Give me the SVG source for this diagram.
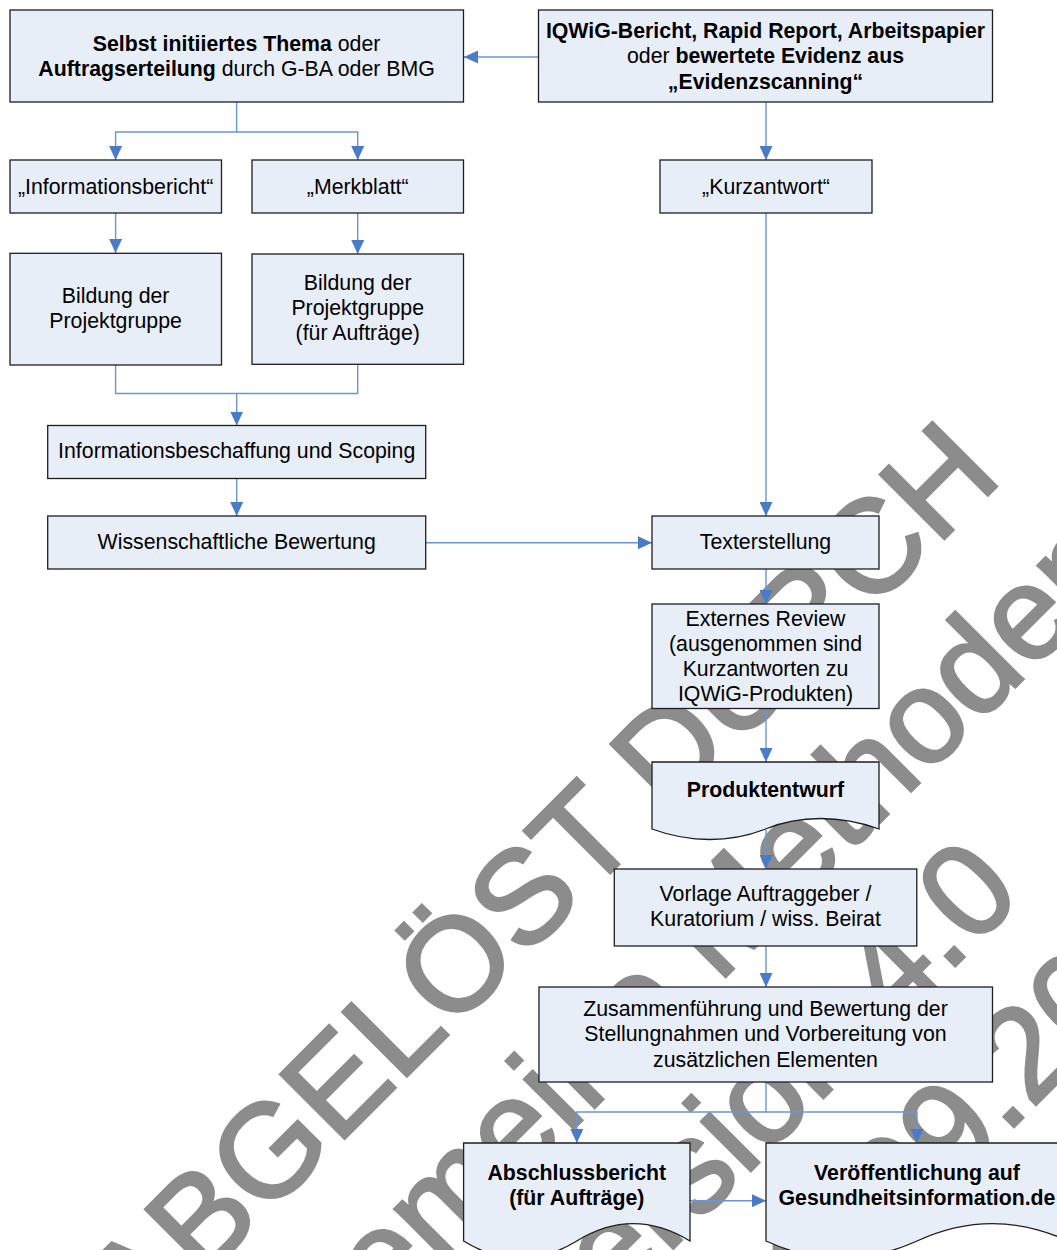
<svg xmlns="http://www.w3.org/2000/svg" width="1057" height="1250" viewBox="0 0 1057 1250">
<defs>
<style>
.wm{font-family:"Liberation Sans",Arial,sans-serif;font-size:132px;fill:#8c8c8c;stroke:#8c8c8c;stroke-width:3;text-anchor:middle}
.box{fill:#e8eef8;stroke:#1e1e1e;stroke-width:1.3}
.t{font-family:"Liberation Sans",Arial,sans-serif;font-size:21.3px;fill:#000;text-anchor:middle}
.b{font-weight:bold}
.c{fill:none;stroke:#6a95d5;stroke-width:1.4}
</style>
<marker id="ah" markerUnits="userSpaceOnUse" markerWidth="14" markerHeight="13" refX="14" refY="6.5" orient="auto">
<path d="M0,0 L14,6.5 L0,13 Z" fill="#4a7bc6"/>
</marker>
</defs>
<rect width="1057" height="1250" fill="#fff"/>
<g id="watermark" transform="translate(572,911) rotate(-45)">
<text class="wm" x="0" y="0">ABGELÖST DURCH</text>
<text class="wm" x="0" y="155">Allgemeine Methoden</text>
<text class="wm" x="0" y="310">Version 4.0</text>
<text class="wm" x="0" y="465">vom 23.09.2011</text>
</g>
<g id="connectors">
<path class="c" d="M538.5,57 H464" marker-end="url(#ah)"/>
<path class="c" d="M236.6,102 V132 H115.6 V160" marker-end="url(#ah)"/>
<path class="c" d="M236.6,132 H357.7 V160" marker-end="url(#ah)"/>
<path class="c" d="M115.6,213 V253" marker-end="url(#ah)"/>
<path class="c" d="M357.7,213 V254" marker-end="url(#ah)"/>
<path class="c" d="M115.6,365 V393.5 H236.7 V425.5" marker-end="url(#ah)"/>
<path class="c" d="M357.7,364 V393.5 H236.7"/>
<path class="c" d="M236.7,478.5 V516" marker-end="url(#ah)"/>
<path class="c" d="M425.7,542.7 H652" marker-end="url(#ah)"/>
<path class="c" d="M766,102 V160" marker-end="url(#ah)"/>
<path class="c" d="M766,213 V516" marker-end="url(#ah)"/>
<path class="c" d="M766,569 V604" marker-end="url(#ah)"/>
<path class="c" d="M766,708.5 V762" marker-end="url(#ah)"/>
<path class="c" d="M766,830 V869" marker-end="url(#ah)"/>
<path class="c" d="M766,946 V987" marker-end="url(#ah)"/>
<path class="c" d="M766,1082 V1112 H576.8 V1143" marker-end="url(#ah)"/>
<path class="c" d="M766,1112 H917 V1143" marker-end="url(#ah)"/>
<path class="c" d="M690,1200.7 H766" marker-end="url(#ah)"/>
</g>
<g id="n1"><rect class="box" x="10" y="10" width="453.5" height="92"/>
<text class="t" x="236.6" y="50.5"><tspan class="b">Selbst initiiertes Thema</tspan> oder</text>
<text class="t" x="236.6" y="75.5"><tspan class="b">Auftragserteilung</tspan> durch G-BA oder BMG</text></g>
<g id="n2"><rect class="box" x="538.5" y="10" width="454" height="92"/>
<text class="t b" x="765.5" y="37.5">IQWiG-Bericht, Rapid Report, Arbeitspapier</text>
<text class="t" x="765.5" y="63">oder <tspan class="b">bewertete Evidenz aus</tspan></text>
<text class="t b" x="765.5" y="88.5">„Evidenzscanning“</text></g>
<g id="n3"><rect class="box" x="10" y="160" width="211.5" height="53"/>
<text class="t" x="115.6" y="194">„Informationsbericht“</text></g>
<g id="n4"><rect class="box" x="252" y="160" width="211.5" height="53"/>
<text class="t" x="357.7" y="194">„Merkblatt“</text></g>
<g id="n5"><rect class="box" x="660" y="160" width="212" height="53"/>
<text class="t" x="766" y="194">„Kurzantwort“</text></g>
<g id="n6"><rect class="box" x="10" y="253.3" width="211.5" height="111.7"/>
<text class="t" x="115.6" y="303.3">Bildung der</text>
<text class="t" x="115.6" y="328.3">Projektgruppe</text></g>
<g id="n7"><rect class="box" x="252" y="254" width="211.5" height="110.3"/>
<text class="t" x="357.7" y="290">Bildung der</text>
<text class="t" x="357.7" y="315">Projektgruppe</text>
<text class="t" x="357.7" y="340">(für Aufträge)</text></g>
<g id="n8"><rect class="box" x="47.7" y="425.5" width="378" height="53"/>
<text class="t" x="236.7" y="458.3">Informationsbeschaffung und Scoping</text></g>
<g id="n9"><rect class="box" x="47.7" y="516" width="378" height="53"/>
<text class="t" x="236.7" y="549.3">Wissenschaftliche Bewertung</text></g>
<g id="n10"><rect class="box" x="652" y="516" width="227" height="53"/>
<text class="t" x="765.5" y="549.3">Texterstellung</text></g>
<g id="n11"><rect class="box" x="652" y="604" width="227" height="104.5"/>
<text class="t" x="765.5" y="625.5">Externes Review</text>
<text class="t" x="765.5" y="650.5">(ausgenommen sind</text>
<text class="t" x="765.5" y="675.5">Kurzantworten zu</text>
<text class="t" x="765.5" y="700.5">IQWiG-Produkten)</text></g>
<g id="n12"><path class="box" d="M652,762 H879 V829 C840,815 800,815 765.5,829 C730,843 690,843 652,829 Z"/>
<text class="t b" x="765.5" y="797">Produktentwurf</text></g>
<g id="n13"><rect class="box" x="614.3" y="869" width="302.5" height="77"/>
<text class="t" x="765.5" y="901">Vorlage Auftraggeber /</text>
<text class="t" x="765.5" y="926">Kuratorium / wiss. Beirat</text></g>
<g id="n14"><rect class="box" x="539" y="987" width="453.5" height="95"/>
<text class="t" x="765.5" y="1015.5">Zusammenführung und Bewertung der</text>
<text class="t" x="765.5" y="1041">Stellungnahmen und Vorbereitung von</text>
<text class="t" x="765.5" y="1066.5">zusätzlichen Elementen</text></g>
<g id="n15"><path class="box" d="M463.6,1143 H690 V1241 C652,1218 614,1218 576.8,1241 C539,1264 501,1264 463.6,1241 Z"/>
<text class="t b" x="576.8" y="1180">Abschlussbericht</text>
<text class="t b" x="576.8" y="1205">(für Aufträge)</text></g>
<g id="n16"><path class="box" d="M766,1143 H1068 V1241 C1018,1218 967,1218 917,1241 C866,1264 816,1264 766,1241 Z"/>
<text class="t b" x="917" y="1180">Veröffentlichung auf</text>
<text class="t b" x="917" y="1205">Gesundheitsinformation.de</text></g>
</svg>
